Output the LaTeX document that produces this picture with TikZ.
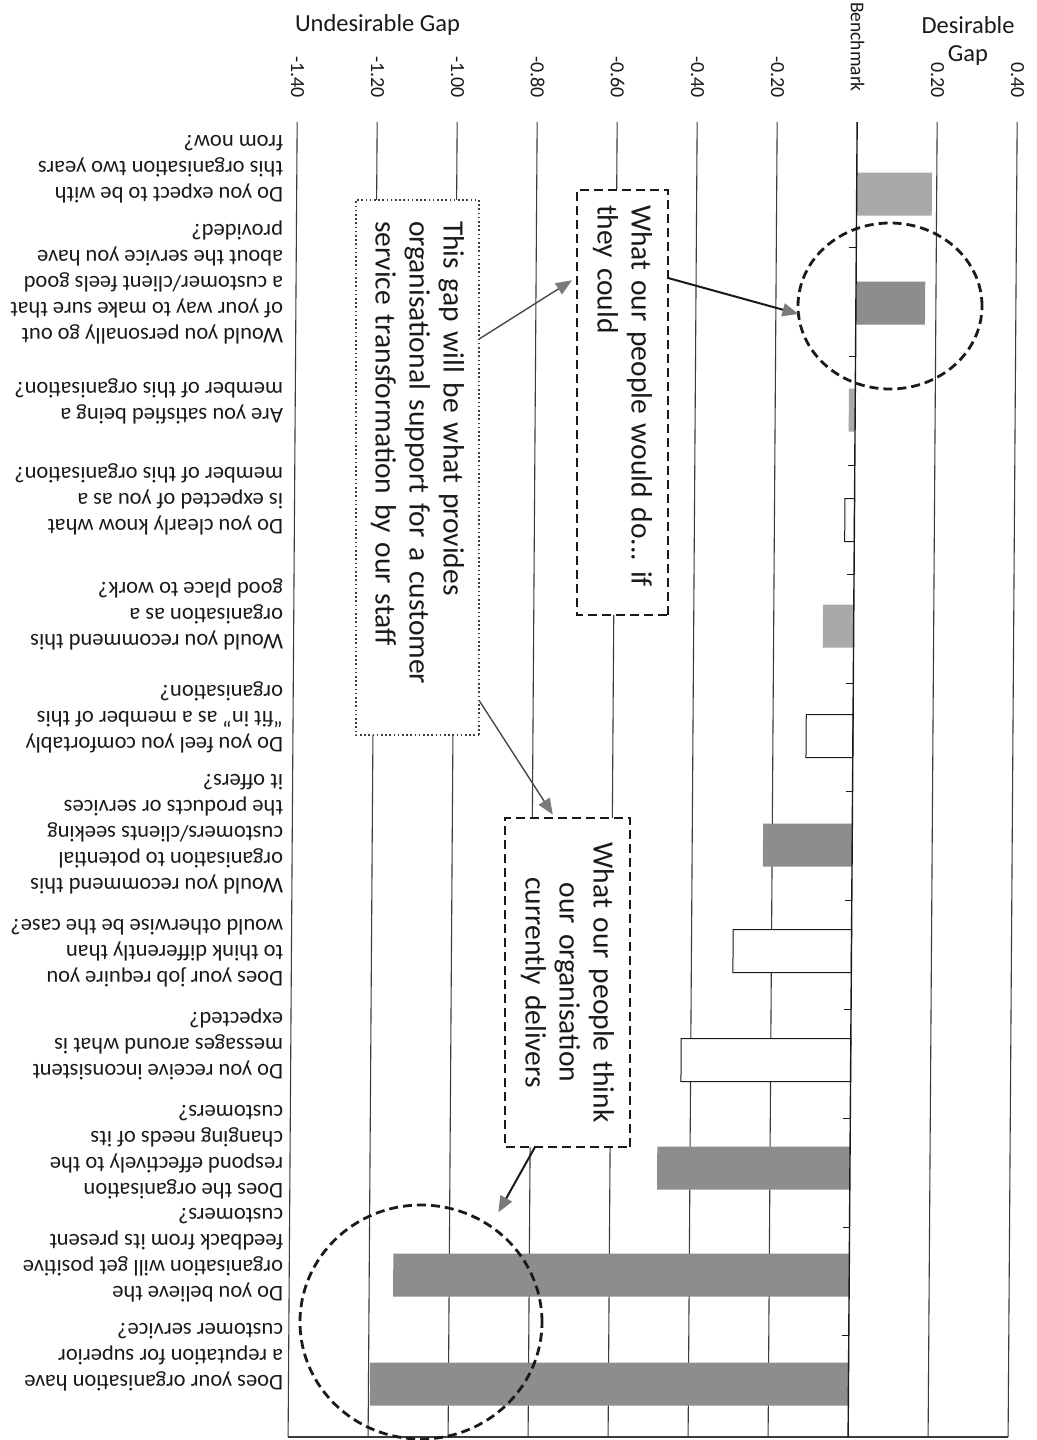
\documentclass[tikz,border=0pt]{standalone}
\usepackage{fontspec}
\setmainfont{Carlito}
\usetikzlibrary{arrows.meta,calc,shapes.geometric}

\definecolor{barlight}{HTML}{A9A9A9}
\definecolor{bardark}{HTML}{8D8D8D}
\definecolor{ink}{HTML}{1A1A1A}
\definecolor{tipgrey}{HTML}{7A7A7A}

\frenchspacing
\begin{document}
\begin{tikzpicture}[x=1pt,y=-1pt,
  every node/.style={inner sep=0pt, outer sep=0pt},
  qlabel/.style={rotate=180, anchor=west, align=left, text=ink, font=\fontsize{22.5}{26}\selectfont},
  ticklabel/.style={rotate=-90, anchor=east, text=ink, font=\fontsize{20}{22}\selectfont},
  gridline/.style={draw=ink!85, line width=1.1pt},
  lightbar/.style={fill=barlight},
  darkbar/.style={fill=bardark},
  openbar/.style={fill=white, draw=ink, line width=1pt},
  calloutfont/.style={font=\fontsize{29.5}{34}\selectfont, text=ink},
  dashbox/.style={draw=ink, fill=white, line width=2.8pt, dash pattern=on 9pt off 5pt},
  dotbox/.style={draw=ink!85, fill=white, line width=2.8pt, dash pattern=on 1.6pt off 2.6pt},
  ring/.style={ellipse, draw=ink, line width=2.8pt, dash pattern=on 9pt off 5pt},
  pointer/.style={draw=ink, line width=2pt, -{Triangle[length=16pt,width=13pt,color=tipgrey]}},
  thinpointer/.style={draw=ink!80, line width=1.4pt, -{Triangle[length=16pt,width=13pt,color=tipgrey]}},
]
\fill[white] (0,0) rectangle (1036,1440);
\useasboundingbox (0,0) rectangle (1036,1440);

% value axis: 400 units per 1.0, benchmark (zero) at x = 858
\begin{scope}[xslant=0.0069]
  \foreach \v in {-1.4,-1.2,-1.0,-0.8,-0.6,-0.4,-0.2,0.2,0.4}
    \draw[gridline] ({858+400*\v},122) -- ({858+400*\v},1437);
  \draw[gridline] (298,1437) -- (1018,1437);
  % gap bars, one per question
  \foreach \v/\yc/\kind in {0.188/194/lightbar, 0.173/303/darkbar, -0.016/410/lightbar,
      -0.024/520/openbar, -0.077/626/lightbar, -0.117/736/openbar, -0.223/845/darkbar,
      -0.296/951/openbar, -0.424/1060/openbar, -0.482/1168/darkbar, -1.14/1275/darkbar,
      -1.196/1384/darkbar}
    \path[\kind] (858,\yc-21.5) rectangle ({858+400*\v},\yc+21.5);
  % benchmark axis with category ticks
  \draw[ink, line width=1.4pt] (858,122) -- (858,1437);
  \foreach \k in {1,...,11}
    \draw[ink, line width=1pt] (851,{139+108.8*\k}) -- (858,{139+108.8*\k});
\end{scope}

% axis titles and tick labels
\node[anchor=west, text=ink, font=\fontsize{24.5}{28}\selectfont] (undes) at (295,25) {Undesirable Gap};
\node[align=center, text=ink, font=\fontsize{24.5}{28}\selectfont] (des) at (968,41) {Desirable\\Gap};
\node[rotate=-90, text=ink, font=\fontsize{19.5}{22}\selectfont] (bench) at (857.5,47) {Benchmark};
\node[ticklabel] (tA) at (297.5,98) {-1.40};
\node[ticklabel] (tB) at (377.5,98) {-1.20};
\node[ticklabel] (tC) at (457.5,98) {-1.00};
\node[ticklabel] (tD) at (537.5,98) {-0.80};
\node[ticklabel] (tE) at (617.5,98) {-0.60};
\node[ticklabel] (tF) at (697.5,98) {-0.40};
\node[ticklabel] (tG) at (777.5,98) {-0.20};
\node[ticklabel] (tH) at (937.5,98) {0.20};
\node[ticklabel] (tI) at (1017.5,98) {0.40};

% survey questions
\node[qlabel] (q1) at (283,169) {Do you expect to be with\\this organisation two years\\from now?};
\node[qlabel] (q2) at (283,282) {Would you personally go out\\of your way to make sure that\\a customer/client feels good\\about the service you have\\provided?};
\node[qlabel] (q3) at (283,401) {Are you satisfied being a\\member of this organisation?};
\node[qlabel] (q4) at (283,499) {Do you clearly know what\\ is expected of you as a\\member of this organisation?};
\node[qlabel] (q5) at (283,614) {Would you recommend this\\organisation as a\\good place to work?};
\node[qlabel] (q6) at (283,717) {Do you feel you comfortably\\“fit in” as a member of this\\organisation?};
\node[qlabel] (q7) at (283,834) {Would you recommend this\\organisation to potential\\customers/clients seeking\\the products or services\\ it offers?};
\node[qlabel] (q8) at (283,953) {Does your job require you\\to think differently than\\would otherwise be the case?};
\node[qlabel] (q9) at (283,1044) {Do you receive inconsistent\\messages around what is\\ expected?};
\node[qlabel] (q10) at (283,1152) {Does the organisation\\respond effectively to the\\changing needs of its\\customers?};
\node[qlabel] (q11) at (283,1255) {Do you believe the\\organisation will get positive\\feedback from its present\\customers?};
\node[qlabel] (q12) at (283,1357) {Does your organisation have\\a reputation for superior\\customer service?};

% highlighted regions
\node[ring, minimum width=184pt, minimum height=166pt] (high) at (890,306) {};
\node[ring, minimum width=242pt, minimum height=234pt] (low) at (421,1322) {};

% callouts
\node[dashbox, rotate=-90, minimum width=425pt, minimum height=91pt, text width=395pt,
      align=left, calloutfont] (would) at (622.5,402.5) {What our people would do... if\\they could};
\node[dashbox, rotate=-90, minimum width=329pt, minimum height=125pt, text width=300pt,
      align=center, calloutfont] (think) at (567.5,982.5) {What our people think\\our organisation\\currently delivers};
\node[dotbox, rotate=-90, minimum width=535pt, minimum height=123pt, text width=493pt,
      align=left, calloutfont] (gap) at (417.5,467.5)
      {This gap will be what provides\\organisational support for a customer\\service transformation by our staff};

% connectors
\draw[pointer] ($(would.north west)!0.207!(would.north east)$) -- (high.185);
\draw[thinpointer, shorten >=6pt] ($(gap.north west)!0.26!(gap.north east)$)
  -- ($(would.south west)!0.205!(would.south east)$);
\draw[thinpointer, shorten >=4pt] ($(gap.north west)!0.935!(gap.north east)$)
  -- ($(think.north west)!0.6!(think.south west)$);
\draw[pointer, shorten >=16pt] ($(think.north east)!0.76!(think.south east)$) -- (low.54);
\end{tikzpicture}
\end{document}
